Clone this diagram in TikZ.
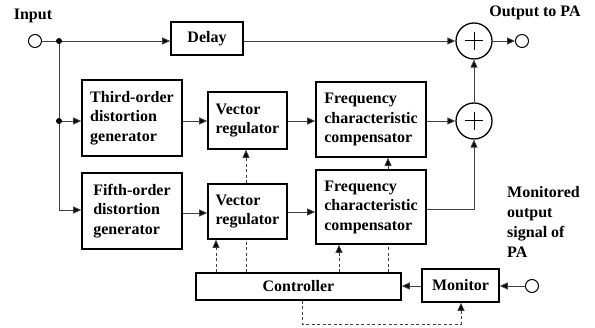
\documentclass[tikz,border=0pt]{standalone}
\usepackage{fontspec}
\setmainfont{Liberation Serif}
\usetikzlibrary{arrows.meta,calc}
\begin{document}
\begin{tikzpicture}[x=1pt,y=-1pt,
  box/.style={draw=black,line width=1.6pt,fill=white,inner sep=0pt,align=left,
    font=\fontsize{16}{19.5}\selectfont\bfseries},
  sumnode/.style={draw=black,line width=1.3pt,circle,minimum size=36pt,inner sep=0pt},
  port/.style={draw=black,line width=1pt,circle,minimum size=13pt,inner sep=0pt,fill=white},
  junc/.style={fill=black,circle,minimum size=6pt,inner sep=0pt},
  conn/.style={draw=black!75,line width=0.9pt},
  arr/.style={conn,-{Triangle[length=8pt,width=7pt,fill=black]}},
  dconn/.style={draw=black!75,line width=0.8pt,dash pattern=on 3pt off 2.5pt},
  darr/.style={dconn,-{Triangle[length=8pt,width=7pt,fill=black]}},
  lbl/.style={font=\fontsize{16}{20}\selectfont\bfseries,inner sep=0pt,align=left}]
\useasboundingbox (0,0) rectangle (595,328);

% boxes
\node[box,minimum width=72pt,minimum height=33pt,align=center] (delay) at (207,38.5) {Delay};
\node[box,minimum width=100pt,minimum height=76pt] (third) at (132,118) {Third-order\\distortion\\generator};
\node[box,minimum width=79pt,minimum height=57pt] (vr1) at (247.5,120.5) {Vector\\regulator};
\node[box,minimum width=110pt,minimum height=75pt] (fc1) at (371,119.5) {Frequency\\characteristic\\compensator};
\node[box,minimum width=100pt,minimum height=76pt] (fifth) at (132,211) {Fifth-order\\distortion\\generator};
\node[box,minimum width=79pt,minimum height=55pt] (vr2) at (247.5,211.5) {Vector\\regulator};
\node[box,minimum width=110pt,minimum height=74pt] (fc2) at (371,207) {Frequency\\characteristic\\compensator};
\node[box,minimum width=205pt,minimum height=27pt,align=center] (ctrl) at (298.5,286.5) {Controller};
\node[box,minimum width=77pt,minimum height=33pt,align=center] (mon) at (460.5,285.5) {Monitor};

% sums
\node[sumnode] (sum1) at (474,41) {};
\node[sumnode] (sum2) at (474,121) {};
\foreach \s in {sum1,sum2}{
  \draw[line width=1pt] ($(\s)+(-9,0)$) -- ($(\s)+(9,0)$);
  \draw[line width=1pt] ($(\s)+(0,-9)$) -- ($(\s)+(0,9)$);
}

% ports
\node[port] (in) at (35,41) {};
\node[port] (out) at (522,41) {};
\node[port] (mport) at (532,286) {};
\node[junc] (j1) at (59,41) {};
\node[junc] (j2) at (59,121) {};
\coordinate (bend) at (59,210);

% labels
\node[lbl,anchor=center] (inl) at (33,16) {Input};
\node[lbl,anchor=center] (outl) at (535,13) {Output to PA};
\node[lbl,anchor=north west] (monl) at (507,186) {Monitored\\output\\signal of\\PA};

% solid connectors
\draw[conn] (in) -- (j1);
\draw[arr] (j1) -- (delay.west |- j1);
\draw[arr] (delay.east |- sum1) -- (sum1.west);
\draw[arr] (sum1.east) -- (out.west);
\draw[conn] (j1) -- (j2) -- (bend);
\draw[arr] (j2) -- (third.west |- j2);
\draw[arr] (bend) -- (fifth.west |- bend);
\draw[arr] (third.east |- j2) -- (vr1.west |- j2);
\draw[arr] (vr1.east |- j2) -- (fc1.west |- j2);
\draw[arr] (fc1.east |- sum2) -- (sum2.west);
\draw[arr] (sum2.north) -- (sum1.south);
\coordinate (r5) at (0,213);
\draw[arr] (fifth.east |- r5) -- (vr2.west |- r5);
\coordinate (r6) at (0,212);
\draw[arr] (vr2.east |- r6) -- (fc2.west |- r6);
\coordinate (r7) at (0,209);
\draw[arr] (fc2.east |- r7) -- (sum2.south |- r7) -- (sum2.south);
\draw[arr] (mport.west) -- (mon.east |- mport);
\draw[arr] (mon.west |- mport) -- (ctrl.east |- mport);

% dashed control lines
\coordinate (xa) at (216,0);
\coordinate (xb) at (246,0);
\coordinate (xc) at (339,0);
\coordinate (xd) at (388,0);
\draw[darr] (xa |- ctrl.north) -- (xa |- vr2.south);
\draw[dconn] (xb |- ctrl.north) -- (xb |- vr2.south);
\draw[darr] (xb |- vr2.north) -- (xb |- vr1.south);
\draw[darr] (xc |- ctrl.north) -- (xc |- fc2.south);
\draw[dconn] (xd |- ctrl.north) -- (xd |- fc2.south);
\draw[darr] (xd |- fc2.north) -- (xd |- fc1.south);
\coordinate (fb1) at (302,324);
\coordinate (fb2) at (461,324);
\draw[darr] (fb1 |- ctrl.south) -- (fb1) -- (fb2) -- (fb2 |- mon.south);
\end{tikzpicture}
\end{document}
